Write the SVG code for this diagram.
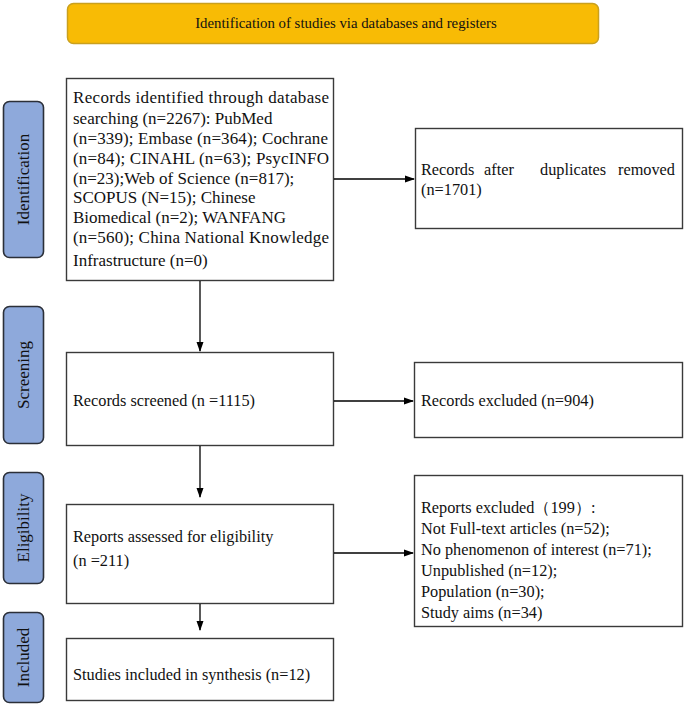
<svg xmlns="http://www.w3.org/2000/svg" width="685" height="705" viewBox="0 0 685 705">
<defs>
<marker id="arr" markerWidth="10" markerHeight="8" refX="9" refY="4" orient="auto" markerUnits="userSpaceOnUse">
<path d="M0,0.5 L10,4 L0,7.5 Z" fill="#000"/>
</marker>
<style>
.t{font-family:"Liberation Serif","Times New Roman",serif;font-size:16.3px;fill:#111;}
.big{font-size:17px;}
.side{fill:#8EA9DB;stroke:#2B2F38;stroke-width:1.6;}
.side-t{font-family:"Liberation Serif","Times New Roman",serif;font-size:17px;fill:#111;text-anchor:middle;}
.box{fill:#fff;stroke:#3A3A3A;stroke-width:1.4;}
.conn line{stroke:#000;stroke-width:1.3;}
</style>
</defs>
<rect width="685" height="705" fill="#fff"/>

<g id="title">
<rect x="67.5" y="3.5" width="531" height="40" rx="6" fill="#F8BB05" stroke="#C9A01E" stroke-width="1.5"/>
<text x="346" y="28" class="t" text-anchor="middle" style="font-size:14.8px">Identification of studies via databases and registers</text>
</g>

<g id="phase-identification">
<rect x="3.5" y="101.5" width="40" height="156" rx="6" class="side"/>
<text class="side-t" transform="translate(29,179.5) rotate(-90)">Identification</text>
</g>
<g id="phase-screening">
<rect x="3.5" y="306.5" width="40" height="137" rx="6" class="side"/>
<text class="side-t" transform="translate(29,375) rotate(-90)">Screening</text>
</g>
<g id="phase-eligibility">
<rect x="3.5" y="472.5" width="40" height="111" rx="6" class="side"/>
<text class="side-t" transform="translate(29,528) rotate(-90)">Eligibility</text>
</g>
<g id="phase-included">
<rect x="3.5" y="612.5" width="40" height="90" rx="6" class="side"/>
<text class="side-t" transform="translate(29,657.5) rotate(-90)">Included</text>
</g>

<g id="records-identified">
<rect x="66.5" y="78.5" width="267" height="202" class="box"/>
<text class="t big">
<tspan x="73" y="103" textLength="256" lengthAdjust="spacing">Records identified through database</tspan>
<tspan x="73" y="124">searching (n=2267):  PubMed</tspan>
<tspan x="73" y="144" textLength="255" lengthAdjust="spacing">(n=339); Embase (n=364);  Cochrane</tspan>
<tspan x="73" y="164" textLength="256" lengthAdjust="spacing">(n=84);  CINAHL (n=63); PsycINFO</tspan>
<tspan x="73" y="184">(n=23);Web of Science (n=817);</tspan>
<tspan x="73" y="203">SCOPUS (N=15); Chinese</tspan>
<tspan x="73" y="223">Biomedical (n=2); WANFANG</tspan>
<tspan x="73" y="243" textLength="256" lengthAdjust="spacing">(n=560); China National Knowledge</tspan>
<tspan x="73" y="266">Infrastructure (n=0)</tspan>
</text>
</g>

<g id="records-after-duplicates">
<rect x="415.5" y="128.5" width="267" height="100" class="box"/>
<text class="t">
<tspan x="421" y="175">Records</tspan><tspan x="484" y="175">after</tspan><tspan x="540" y="175">duplicates</tspan><tspan x="618" y="175">removed</tspan>
<tspan x="421" y="195">(n=1701)</tspan>
</text>
</g>

<g id="records-screened">
<rect x="66.5" y="352.5" width="267" height="93" class="box"/>
<text class="t" x="73" y="406">Records screened  (n =1115)</text>
</g>

<g id="records-excluded">
<rect x="414.5" y="362.5" width="268" height="75" class="box"/>
<text class="t" x="421" y="406">Records excluded  (n=904)</text>
</g>

<g id="reports-assessed">
<rect x="66.5" y="504.5" width="267" height="99" class="box"/>
<text class="t">
<tspan x="73" y="542">Reports assessed for eligibility</tspan>
<tspan x="73" y="566">(n =211)</tspan>
</text>
</g>

<g id="reports-excluded">
<rect x="414.5" y="475.5" width="268" height="151" class="box"/>
<text class="t">
<tspan x="421" y="513">Reports excluded（199）:</tspan>
<tspan x="421" y="534">Not Full-text articles (n=52);</tspan>
<tspan x="421" y="555">No phenomenon of interest (n=71);</tspan>
<tspan x="421" y="576">Unpublished (n=12);</tspan>
<tspan x="421" y="597">Population (n=30);</tspan>
<tspan x="421" y="618">Study aims (n=34)</tspan>
</text>
</g>

<g id="studies-included">
<rect x="66.5" y="638.5" width="267" height="62" class="box"/>
<text class="t" x="73" y="680">Studies included in synthesis (n=12)</text>
</g>

<g class="conn" id="connectors">
<line x1="200" y1="281" x2="200" y2="351" marker-end="url(#arr)"/>
<line x1="334" y1="179" x2="414" y2="179" marker-end="url(#arr)"/>
<line x1="334" y1="401" x2="413" y2="401" marker-end="url(#arr)"/>
<line x1="200" y1="446" x2="200" y2="497" marker-end="url(#arr)"/>
<line x1="334" y1="553" x2="413" y2="553" marker-end="url(#arr)"/>
<line x1="200" y1="604" x2="200" y2="630" marker-end="url(#arr)"/>
</g>
</svg>
